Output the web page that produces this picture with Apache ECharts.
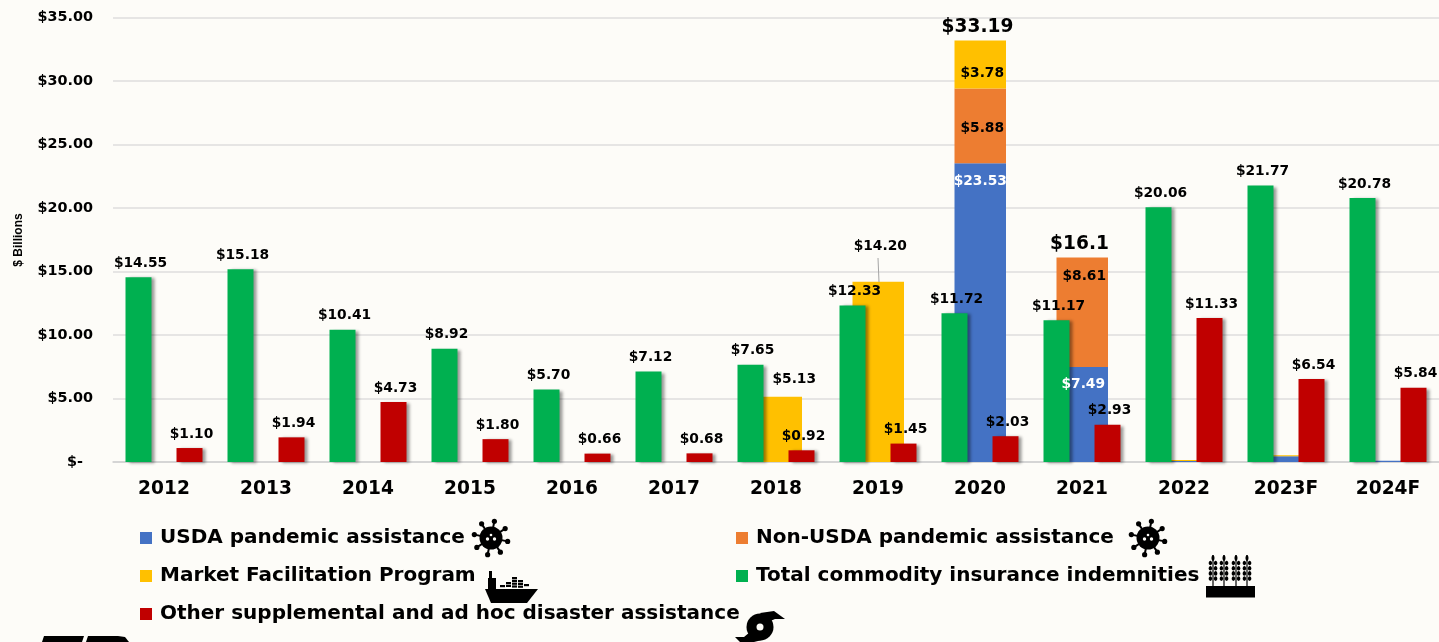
<!DOCTYPE html>
<html>
<head>
<meta charset="utf-8">
<title>Farm assistance</title>
<script src="https://cdn.jsdelivr.net/npm/echarts@6/dist/echarts.min.js"></script>
<style>
html, body { margin: 0; padding: 0; background: #fdfcf8; overflow: hidden; }
#grafico { width: 1439px; height: 642px; }
</style>
</head>
<body>
<div id="grafico"></div>
<script>
// Dados
const anos = ['2012', '2013', '2014', '2015', '2016', '2017', '2018', '2019', '2020', '2021', '2022', '2023F', '2024F'];
const indemnities = [14.55, 15.18, 10.41, 8.92, 5.70, 7.12, 7.65, 12.33, 11.72, 11.17, 20.06, 21.77, 20.78];
const usda = [0, 0, 0, 0, 0, 0, 0, 0, 23.53, 7.49, 0.08, 0.45, 0.1];
const nonUsda = [0, 0, 0, 0, 0, 0, 0, 0, 5.88, 8.61, 0, 0, 0];
const mfp = [0, 0, 0, 0, 0, 0, 5.13, 14.20, 3.78, 0, 0.08, 0.08, 0];
const outros = [1.10, 1.94, 4.73, 1.80, 0.66, 0.68, 0.92, 1.45, 2.03, 2.93, 11.33, 6.54, 5.84];
const totais = [null, null, null, null, null, null, null, null, 33.19, 16.1, null, null, null];
const totaisTexto = { 8: '$33.19', 9: '$16.1' };
const yTicks = ['$-  ', '$5.00', '$10.00', '$15.00', '$20.00', '$25.00', '$30.00', '$35.00'];
const nomes = ['USDA pandemic assistance', 'Non-USDA pandemic assistance', 'Market Facilitation Program', 'Total commodity insurance indemnities', 'Other supplemental and ad hoc disaster assistance'];
const cores = ['#4472c4', '#ed7d31', '#ffc000', '#00b050', '#c00000'];

const FONTE = '"DejaVu Sans", sans-serif';
const larguraFina = 26;
const larguraStack = 51.5;

var sombra = { shadowBlur: 3, shadowOffsetX: 3, shadowOffsetY: 1, shadowColor: 'rgba(0,0,0,0.4)' };

function dinheiro(v) {
    return '$' + v.toFixed(2);
}

// rotulos so nos pontos indicados
function comRotulos(valores, rotulos) {
    return valores.map(function (v, i) {
        if (!rotulos[i]) return v;
        return {
            value: v,
            label: Object.assign({
                show: true,
                formatter: dinheiro(v),
                fontFamily: FONTE,
                fontWeight: 'bold',
                fontSize: 13.8,
                color: '#000'
            }, rotulos[i])
        };
    });
}

var rotuloTopo = {
    show: true,
    position: 'top',
    distance: 7,
    offset: [2, 0],
    color: '#000',
    fontFamily: FONTE,
    fontWeight: 'bold',
    fontSize: 13.8,
    formatter: function (p) { return dinheiro(p.value); }
};

var chartDom = document.getElementById('grafico');
var myChart = echarts.init(chartDom);

// legendas, uma por posicao
var legendPos = [[140, 526], [736, 526], [140, 564], [736, 564], [140, 602]];
var legendas = nomes.map(function (n, i) {
    return {
        data: [n],
        left: legendPos[i][0],
        top: legendPos[i][1],
        padding: 0,
        icon: 'rect',
        itemWidth: 12,
        itemHeight: 12,
        itemGap: 8,
        selectedMode: false,
        textStyle: {
            color: '#000',
            fontFamily: FONTE,
            fontWeight: 'bold',
            fontSize: 20,
            lineHeight: 24,
            padding: [0, 0, 0, 3]
        }
    };
});

// icones
function virus(cx, cy) {
    var filhos = [{ type: 'circle', shape: { cx: cx, cy: cy, r: 11.5 }, style: { fill: '#000' } }];
    for (var k = 0; k < 8; k++) {
        var a = k * Math.PI / 4 + 0.2;
        var x2 = cx + Math.cos(a) * 17, y2 = cy + Math.sin(a) * 17;
        filhos.push({ type: 'line', shape: { x1: cx, y1: cy, x2: x2, y2: y2 }, style: { stroke: '#000', lineWidth: 2 } });
        filhos.push({ type: 'circle', shape: { cx: x2, cy: y2, r: 2.6 }, style: { fill: '#000' } });
    }
    filhos.push({ type: 'circle', shape: { cx: cx - 3.5, cy: cy + 1, r: 1.7 }, style: { fill: '#fdfcf8' } });
    filhos.push({ type: 'circle', shape: { cx: cx + 3.5, cy: cy + 1, r: 1.7 }, style: { fill: '#fdfcf8' } });
    filhos.push({ type: 'circle', shape: { cx: cx, cy: cy - 3, r: 1.3 }, style: { fill: '#fdfcf8' } });
    return { type: 'group', children: filhos };
}

function navio() {
    var filhos = [
        { type: 'polygon', shape: { points: [[485, 589], [538, 589], [527, 603], [491, 603]] }, style: { fill: '#000' } },
        { type: 'rect', shape: { x: 488, y: 578, width: 8, height: 11 }, style: { fill: '#000' } },
        { type: 'rect', shape: { x: 489, y: 571, width: 3, height: 8 }, style: { fill: '#000' } }
    ];
    var pilhas = [[500, 585, 1], [506, 582, 2], [512, 577, 4], [518, 580, 3], [524, 584, 1]];
    pilhas.forEach(function (p) {
        for (var j = 0; j < p[2]; j++) {
            filhos.push({ type: 'rect', shape: { x: p[0], y: p[1] + j * 2.8, width: 5, height: 2.2 }, style: { fill: '#000' } });
        }
    });
    return { type: 'group', children: filhos };
}

function trigo() {
    var filhos = [{ type: 'rect', shape: { x: 1206, y: 586, width: 49, height: 11.5 }, style: { fill: '#000' } }];
    [1213, 1224, 1236, 1247].forEach(function (x) {
        filhos.push({ type: 'line', shape: { x1: x, y1: 555, x2: x, y2: 587 }, style: { stroke: '#000', lineWidth: 1.2 } });
        filhos.push({ type: 'ellipse', shape: { cx: x, cy: 558, rx: 1.5, ry: 3 }, style: { fill: '#000' } });
        for (var j = 0; j < 4; j++) {
            filhos.push({ type: 'ellipse', shape: { cx: x - 2.6, cy: 563 + j * 5.2, rx: 1.7, ry: 2.3 }, style: { fill: '#000' } });
            filhos.push({ type: 'ellipse', shape: { cx: x + 2.6, cy: 563 + j * 5.2, rx: 1.7, ry: 2.3 }, style: { fill: '#000' } });
        }
    });
    return { type: 'group', children: filhos };
}

var graficos = [
    virus(491, 538),
    virus(1148, 538),
    navio(),
    trigo(),
    // furacao
    { type: 'circle', shape: { cx: 760, cy: 627, r: 13.5 }, style: { fill: '#000' } },
    { type: 'polygon', shape: { points: [[785, 619], [774, 611], [760, 613], [768, 622], [775, 619]] }, style: { fill: '#000' } },
    { type: 'polygon', shape: { points: [[735, 637], [744, 637], [750, 632], [762, 640], [750, 643], [740, 642]] }, style: { fill: '#000' } },
    { type: 'circle', shape: { cx: 760, cy: 627, r: 3.5 }, style: { fill: '#fdfcf8' }, z: 10 },
    // pedaco do logo no canto
    { type: 'polygon', shape: { points: [[44, 636], [84, 636], [82, 642], [42, 642]] }, style: { fill: '#000' } },
    { type: 'polygon', shape: { points: [[88, 636], [118, 636], [125, 637], [129, 642], [86, 642]] }, style: { fill: '#000' } },
    // ligacao do rotulo 14.20
    { type: 'line', shape: { x1: 878, y1: 258, x2: 879, y2: 282 }, style: { stroke: '#a5a5a5', lineWidth: 1 }, z: 10 },
    // titulo do eixo
    {
        type: 'text',
        x: 19,
        y: 240,
        rotation: Math.PI / 2,
        style: { text: '$ Billions', fill: '#000', font: 'bold 12px "Liberation Sans", sans-serif', align: 'center', verticalAlign: 'middle' }
    }
];

var option = {
    animation: false,
    backgroundColor: '#fdfcf8',
    grid: { left: 113, top: 17.5, width: 1327, height: 444.5, containLabel: false },
    legend: legendas,
    graphic: { elements: graficos },
    xAxis: {
        type: 'category',
        data: anos,
        axisTick: { show: false },
        axisLine: { lineStyle: { color: '#cfcfcf', width: 1.5 } },
        axisLabel: { color: '#000', fontFamily: FONTE, fontWeight: 'bold', fontSize: 18.6, margin: 18, interval: 0 }
    },
    yAxis: {
        type: 'value',
        min: 0,
        max: 35,
        interval: 5,
        axisLine: { show: false },
        axisTick: { show: false },
        splitLine: { lineStyle: { color: '#dedede', width: 1.5 } },
        axisLabel: {
            color: '#000',
            fontFamily: FONTE,
            fontWeight: 'bold',
            fontSize: 14.4,
            margin: 20,
            padding: [3, 0, 0, 0],
            formatter: function (v) { return yTicks[v / 5]; }
        }
    },
    series: [
        // so reserva a coluna do verde, assim ele desenha por cima da pilha
        { name: 'reserva', type: 'bar', stack: 'verde', barWidth: larguraFina, barGap: '-50%', data: [] },
        {
            name: nomes[0], type: 'bar', stack: 'ajuda', barWidth: larguraStack,
            itemStyle: { color: cores[0] },
            data: comRotulos(usda, {
                8: { position: 'insideTop', distance: 11, color: '#fff' },
                9: { position: 'insideTop', distance: 11, offset: [1, 0], color: '#fff' }
            })
        },
        {
            name: nomes[1], type: 'bar', stack: 'ajuda', barWidth: larguraStack,
            itemStyle: { color: cores[1] },
            data: comRotulos(nonUsda, {
                8: { position: 'inside', offset: [2, 3] },
                9: { position: 'insideTop', distance: 12, offset: [2, 0] }
            })
        },
        {
            name: nomes[2], type: 'bar', stack: 'ajuda', barWidth: larguraStack,
            itemStyle: { color: cores[2] },
            data: comRotulos(mfp, {
                6: { position: 'top', distance: 10, offset: [18, 0] },
                7: { position: 'top', distance: 28, offset: [2, 0] },
                8: { position: 'inside', offset: [2, 9] }
            })
        },
        // espacador invisivel, acerta o recuo do vermelho
        { name: 'espaco', type: 'bar', stack: 'espaco', barWidth: 24.5, data: [] },
        {
            name: nomes[4], type: 'bar', stack: 'vermelho', barWidth: larguraFina,
            itemStyle: Object.assign({ color: cores[4] }, sombra),
            label: rotuloTopo,
            data: outros
        },
        {
            name: nomes[3], type: 'bar', stack: 'verde', barWidth: larguraFina,
            itemStyle: Object.assign({ color: cores[3] }, sombra),
            label: rotuloTopo,
            data: indemnities
        },
        {
            name: 'Total', type: 'scatter', symbolSize: 1, silent: true, z: 5,
            itemStyle: { color: 'transparent', opacity: 1 },
            label: {
                show: true,
                position: 'top',
                distance: 3.5,
                offset: [-2.5, 0],
                color: '#000',
                fontFamily: FONTE,
                fontWeight: 'bold',
                fontSize: 18.6,
                formatter: function (p) { return totaisTexto[p.dataIndex]; }
            },
            data: totais
        }
    ]
};

option && myChart.setOption(option);
</script>
</body>
</html>
